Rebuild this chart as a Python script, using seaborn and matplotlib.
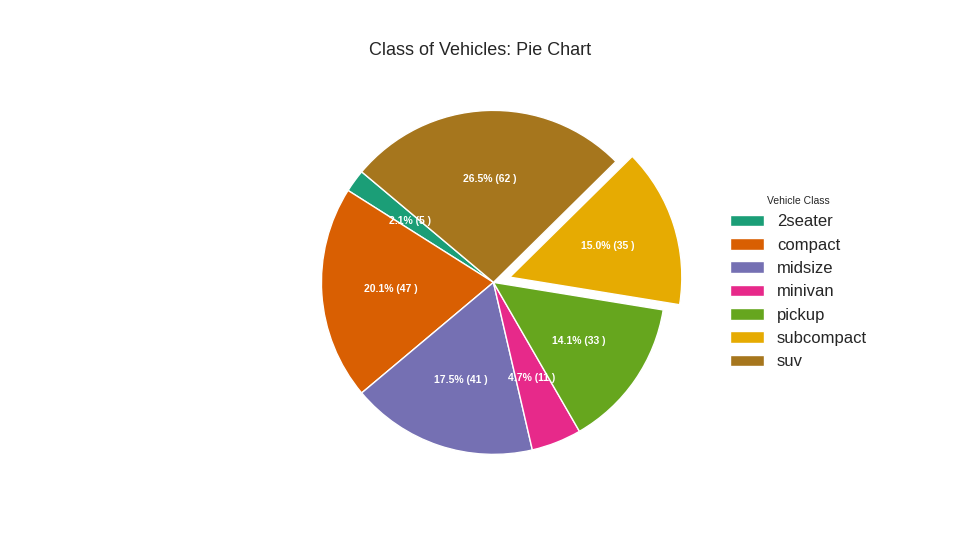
import matplotlib
matplotlib.use("Agg")
import matplotlib.pyplot as plt
import seaborn as sns
import numpy as np

sns.set_style("white")
plt.rcParams['font.family'] = ['Liberation Sans', 'DejaVu Sans']

categories = ["2seater", "compact", "midsize", "minivan", "pickup", "subcompact", "suv"]
counts = [5, 47, 41, 11, 33, 35, 62]
explode = [0, 0, 0, 0, 0, 0.1, 0]

colors = sns.color_palette("Dark2", len(categories))
total = sum(counts)

def fmt(pct):
    n = int(round(pct / 100. * total))
    return "{:.1f}% ({:d} )".format(pct, n)

fig = plt.figure(figsize=(9.6, 5.6), dpi=100)
ax = fig.add_axes([0.299, 0.127, 0.430, 0.7375])
wedges, texts, autotexts = ax.pie(counts, autopct=fmt, colors=colors, startangle=140,
                                  explode=explode, textprops=dict(color="white"))
plt.setp(autotexts, size=7.5, weight="bold")
ax.set_xlim(-1.2, 1.2)
ax.set_ylim(-1.2, 1.2)
ax.set_aspect("equal")
fig.legend(wedges, categories, title="Vehicle Class", loc="center left",
           bbox_to_anchor=(0.745, 0.495), frameon=False, fontsize=12,
           title_fontsize=7.5)
fig.suptitle("Class of Vehicles: Pie Chart", y=0.925, fontsize=13)
fig.savefig("out.png", dpi=100)
